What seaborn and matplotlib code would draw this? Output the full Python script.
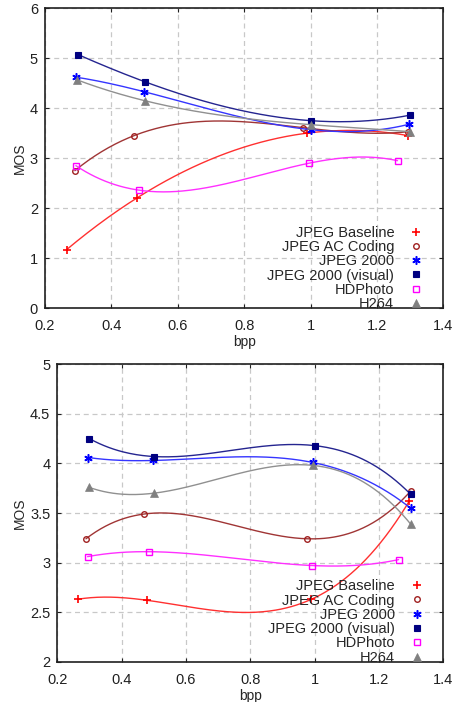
import numpy as np
import pandas as pd
import matplotlib
matplotlib.use("Agg")
import matplotlib.pyplot as plt
import seaborn as sns

codecs = ["JPEG Baseline", "JPEG AC Coding", "JPEG 2000",
          "JPEG 2000 (visual)", "HDPhoto", "H264"]

# top panel: bpp and MOS per codec
top_bpp = {
    "JPEG Baseline": [0.265, 0.476, 0.989, 1.295],
    "JPEG AC Coding": [0.29, 0.468, 0.977, 1.295],
    "JPEG 2000": [0.293, 0.498, 1.0, 1.298],
    "JPEG 2000 (visual)": [0.3, 0.5, 1.0, 1.3],
    "HDPhoto": [0.293, 0.483, 0.996, 1.262],
    "H264": [0.295, 0.5, 1.0, 1.3],
}
top_mos = {
    "JPEG Baseline": [1.17, 2.2, 3.5, 3.45],
    "JPEG AC Coding": [2.75, 3.45, 3.61, 3.53],
    "JPEG 2000": [4.62, 4.33, 3.57, 3.68],
    "JPEG 2000 (visual)": [5.07, 4.53, 3.75, 3.86],
    "HDPhoto": [2.85, 2.36, 2.9, 2.95],
    "H264": [4.57, 4.15, 3.67, 3.53],
}

# bottom panel
bot_bpp = {
    "JPEG Baseline": [0.263, 0.478, 0.99, 1.294],
    "JPEG AC Coding": [0.289, 0.47, 0.977, 1.298],
    "JPEG 2000": [0.296, 0.498, 0.994, 1.298],
    "JPEG 2000 (visual)": [0.3, 0.5, 1.0, 1.298],
    "HDPhoto": [0.294, 0.486, 0.993, 1.261],
    "H264": [0.298, 0.5, 0.996, 1.298],
}
bot_mos = {
    "JPEG Baseline": [2.63, 2.62, 2.63, 3.62],
    "JPEG AC Coding": [3.24, 3.49, 3.24, 3.72],
    "JPEG 2000": [4.06, 4.03, 4.01, 3.55],
    "JPEG 2000 (visual)": [4.25, 4.07, 4.18, 3.69],
    "HDPhoto": [3.06, 3.11, 2.97, 3.03],
    "H264": [3.76, 3.70, 3.98, 3.39],
}

marker_color = {
    "JPEG Baseline": "#ff0000",
    "JPEG AC Coding": "#a02020",
    "JPEG 2000": "#0000ff",
    "JPEG 2000 (visual)": "#000080",
    "HDPhoto": "#ff00ff",
    "H264": "#808080",
}
line_color = {
    "JPEG Baseline": "#ff3030",
    "JPEG AC Coding": "#a03535",
    "JPEG 2000": "#3535ff",
    "JPEG 2000 (visual)": "#252590",
    "HDPhoto": "#ff30ff",
    "H264": "#909090",
}
marker_style = {
    "JPEG Baseline": dict(marker="+", ms=6, mew=1.2, mfc="none"),
    "JPEG AC Coding": dict(marker="o", ms=4, mew=1.0, mfc="none"),
    "JPEG 2000": dict(marker=(6, 2, 0), ms=6, mew=1.1),
    "JPEG 2000 (visual)": dict(marker="s", ms=5, mew=0.8),
    "HDPhoto": dict(marker="s", ms=4.5, mew=1.0, mfc="none"),
    "H264": dict(marker="^", ms=5.5, mew=0.5),
}

sns.set_theme(style="ticks")
plt.rcParams["font.family"] = ["Liberation Sans", "DejaVu Sans"]
plt.rcParams["axes.edgecolor"] = "#202020"


def draw_panel(ax, bpp, mos, ylim, yticks):
    for name in codecs:
        x = np.array(bpp[name])
        y = np.array(mos[name])
        # smooth cubic through the four measured points
        coef = np.polyfit(x, y, 3)
        xs = np.linspace(x.min(), x.max(), 200)
        curve = pd.DataFrame({"bpp": xs, "MOS": np.polyval(coef, xs)})
        sns.lineplot(data=curve, x="bpp", y="MOS", ax=ax, color=line_color[name],
                     lw=1.0, sort=False)
        ax.plot(x, y, ls="none", color=marker_color[name],
                mec=marker_color[name], label=name, **marker_style[name])

    ax.set_xlim(0.2, 1.4)
    ax.set_ylim(*ylim)
    ax.set_xticks([0.2, 0.4, 0.6, 0.8, 1.0, 1.2, 1.4])
    ax.set_xticklabels(["0.2", "0.4", "0.6", "0.8", "1", "1.2", "1.4"])
    ax.set_yticks(yticks)
    ax.set_yticklabels([f"{v:g}" for v in yticks])
    ax.grid(True, ls=(0, (4, 3)), color="#c8c8c8", lw=0.9)
    ax.tick_params(direction="in", length=3, width=0.8, top=True, right=True,
                   labelsize=10.5, colors="#202020")
    ax.tick_params(axis="x", pad=8)
    ax.tick_params(axis="y", pad=5)
    for s in ax.spines.values():
        s.set_linewidth(1.2)
    ax.set_xlabel("bpp", fontsize=10, labelpad=1.5)
    ax.set_ylabel("MOS", fontsize=10, labelpad=2)
    ax.legend(loc="lower right", frameon=False, markerfirst=False,
              fontsize=10.5, labelspacing=0.02, handlelength=1.0,
              handletextpad=1.0, borderpad=0, borderaxespad=0,
              bbox_to_anchor=(0.95, -0.01))


fig = plt.figure(figsize=(4.56, 7.02), dpi=100)
ax1 = fig.add_axes([0.0987, 0.561, 0.8735, 0.4274])
ax2 = fig.add_axes([0.1257, 0.0574, 0.8465, 0.4236])

draw_panel(ax1, top_bpp, top_mos, (0, 6), [0, 1, 2, 3, 4, 5, 6])
draw_panel(ax2, bot_bpp, bot_mos, (2, 5), [2, 2.5, 3, 3.5, 4, 4.5, 5])

fig.savefig("out.png", dpi=100)
